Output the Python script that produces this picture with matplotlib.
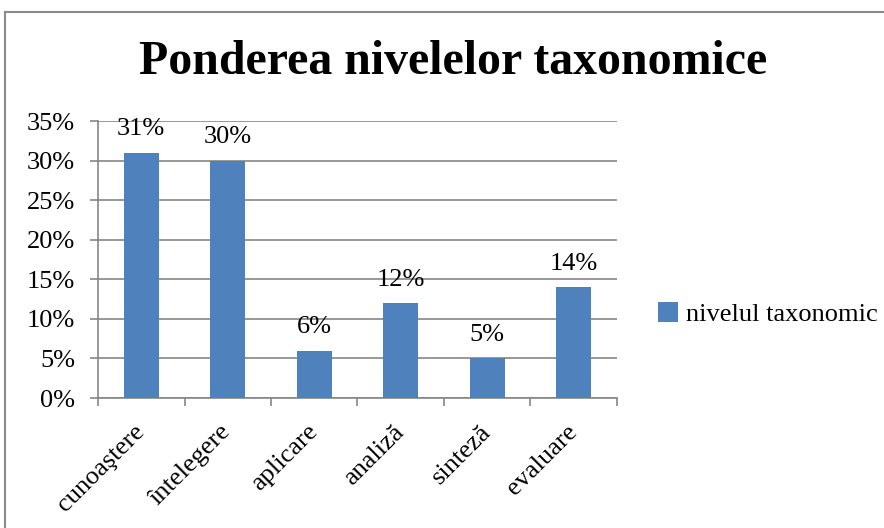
import matplotlib
matplotlib.use('Agg')
import matplotlib.pyplot as plt
from matplotlib.lines import Line2D
from matplotlib.ticker import FuncFormatter, FixedLocator

# Taxonomic levels and their share
levels = ['cunoaştere', 'întelegere', 'aplicare', 'analiză', 'sinteză', 'evaluare']
shares = [0.31, 0.30, 0.06, 0.12, 0.05, 0.14]
series_name = 'nivelul taxonomic'
title = 'Ponderea nivelelor taxonomice'

plt.rcParams['font.family'] = ['Liberation Serif', 'DejaVu Serif']
bar_color = '#4F81BD'
grid_color = '#868686'
fs = 19

fig = plt.figure(figsize=(8.84, 5.28), dpi=100)
ax = fig.add_axes([0.1109, 0.2462, 0.587, 0.5246])

x = list(range(len(levels)))
bars = ax.bar(x, shares, width=0.4, color=bar_color, label=series_name, zorder=3)

for xi, v in zip(x, shares):
    ax.annotate(f'{v * 100:.0f}%', (xi, v), xytext=(0, 9), textcoords='offset points',
                ha='center', va='bottom', fontsize=fs)

ax.set_xlim(-0.5, len(levels) - 0.5)
ax.set_ylim(0, 0.35)
ax.set_yticks([i * 0.05 for i in range(8)])
ax.yaxis.set_major_formatter(FuncFormatter(lambda v, p: f'{v * 100:.0f}%'))
ax.yaxis.grid(True, color=grid_color, linewidth=1.2, zorder=0)

# category labels at centres, tick marks at boundaries
ax.set_xticks(x)
ax.set_xticklabels(levels, rotation=45, ha='right', va='center', rotation_mode='anchor', fontsize=fs)
ax.tick_params(axis='x', which='major', length=0, pad=22)
ax.xaxis.set_minor_locator(FixedLocator([i - 0.5 for i in range(len(levels) + 1)]))
ax.tick_params(axis='x', which='minor', length=5.5, width=1.2, color=grid_color, direction='out')
ax.tick_params(axis='y', length=5.5, width=1.2, color=grid_color, labelsize=fs, pad=11)

for side in ['top', 'right']:
    ax.spines[side].set_visible(False)
for side in ['left', 'bottom']:
    ax.spines[side].set_color(grid_color)
    ax.spines[side].set_linewidth(1.2)

fig.text(0.513, 0.883, title, ha='center', va='center', fontsize=34.5, fontweight='bold')

fig.legend(handles=[bars], labels=[series_name], loc='center left', bbox_to_anchor=(0.718, 0.405),
           frameon=False, fontsize=fs, handlelength=0.75, handleheight=0.75, handletextpad=0.3)

# outer frame (left and top edges)
fig.add_artist(Line2D([0.0057, 0.0057], [0, 0.977], color='#8a8a8a', linewidth=1.5))
fig.add_artist(Line2D([0.0057, 1.0], [0.977, 0.977], color='#8a8a8a', linewidth=1.5))

fig.savefig('out.png', dpi=100, facecolor='white')
